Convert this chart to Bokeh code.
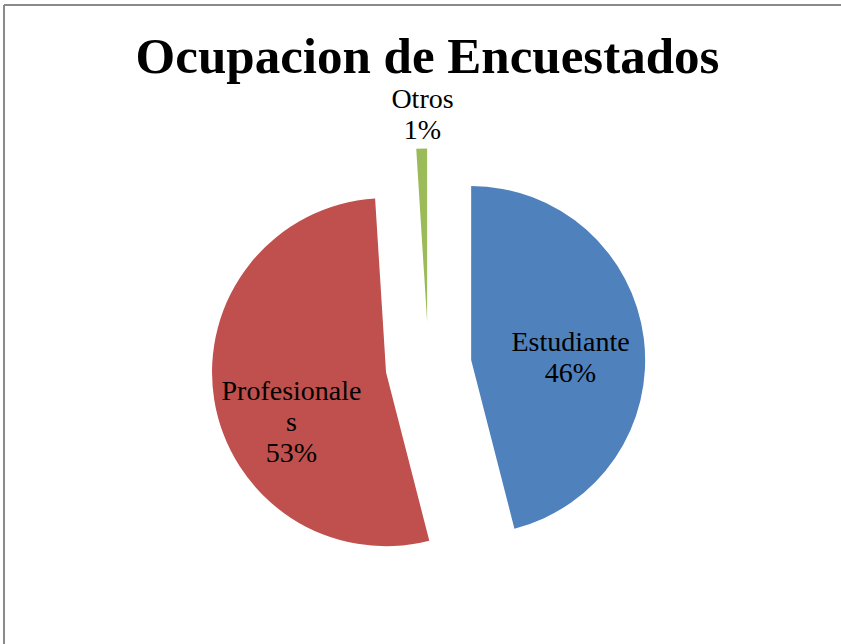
import math
from bokeh.plotting import figure
from bokeh.models import Range1d, ColumnDataSource
from bokeh.core.properties import value
from bokeh.embed import file_html
from bokeh.resources import INLINE

# ---- data ----
title_text = "Ocupacion de Encuestados"
categories = ["Estudiante", "Profesionales", "Otros"]
label_lines = [["Estudiante"], ["Profesionale", "s"], ["Otros"]]
percent = [46, 53, 1]
colors = ["#4F81BD", "#C0504D", "#9BBB59"]

# ---- layout (window pixel coordinates) ----
W, H = 841, 644
cx, cy = 428, 365          # pie centre before explosion
radius = 174
explode = 43
label_pos = [(570, 341), (291, 390), (422, 98)]   # baseline of first line
line_h = 31

def Y(wy):
    return H - wy

p = figure(width=W, height=H, output_backend="svg", toolbar_location=None,
           x_range=Range1d(0, W), y_range=Range1d(0, H),
           min_border=0)
p.axis.visible = False
p.grid.visible = False
p.outline_line_color = None
p.background_fill_color = "white"

# frame border (top & left)
p.segment(x0=[3.5, 3.5], y0=[Y(4.5), Y(4.5)], x1=[3.5, W], y1=[Y(H), Y(4.5)],
          line_color="#8a8a8a", line_width=2)

total = sum(percent)
start = 90.0
xs, ys, sa, ea = [], [], [], []
for v in percent:
    sweep = 360.0 * v / total
    end = start - sweep
    mid = math.radians((start + end) / 2)
    xs.append(cx + explode * math.cos(mid))
    ys.append(Y(cy) + explode * math.sin(mid))
    sa.append(math.radians(start))
    ea.append(math.radians(end))
    start = end

src = ColumnDataSource(dict(x=xs, y=ys, sa=sa, ea=ea, color=colors, cat=categories))
p.wedge(x="x", y="y", radius=radius, start_angle="sa", end_angle="ea",
        direction="clock", fill_color="color", line_color=None, source=src)

# title
p.text(x=[427], y=[Y(55)], text=[title_text], text_font=value("Liberation Serif"),
       text_font_style="bold", text_font_size="51px", text_align="center",
       text_baseline="alphabetic", text_color="black")

# data labels
tx, ty, tt = [], [], []
for (lx, ly), lines, v in zip(label_pos, label_lines, percent):
    allines = lines + [f"{v}%"]
    for i, t in enumerate(allines):
        tx.append(lx)
        ty.append(Y(ly + i * line_h))
        tt.append(t)
p.text(x=tx, y=ty, text=tt, text_font=value("Liberation Serif"),
       text_font_size="28px", text_align="center", text_baseline="alphabetic",
       text_color="black")

open("out.html", "w").write(file_html(p, INLINE))
